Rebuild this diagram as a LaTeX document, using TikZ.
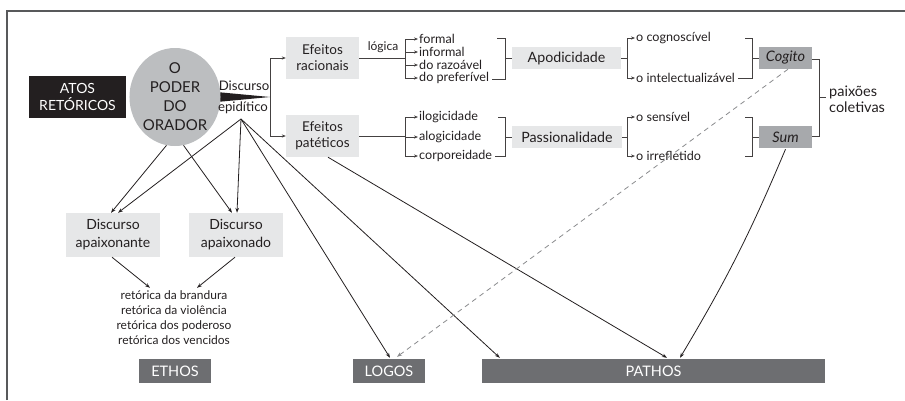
\documentclass[tikz,border=0pt]{standalone}
\usepackage{fontspec}
\setmainfont{Lato}
\usetikzlibrary{arrows.meta,shapes.geometric,calc,backgrounds}
\definecolor{lgray}{HTML}{E6E7E8}
\definecolor{mgray}{HTML}{A7A9AC}
\definecolor{egray}{HTML}{BCBEC0}
\definecolor{dgray}{HTML}{6D6E71}
\definecolor{fgray}{HTML}{58595B}
\definecolor{ink}{HTML}{231F20}
\begin{document}
\begin{tikzpicture}[x=1pt,y=-1pt,
  lbox/.style={fill=lgray,inner sep=0,align=center,text=ink,font=\fontsize{13.5}{16}\selectfont},
  mbox/.style={fill=mgray,inner sep=0,align=center,text=ink,font=\fontsize{14.5}{16}\selectfont\itshape,minimum width=53pt,minimum height=22pt},
  dbox/.style={fill=dgray,inner sep=0,align=center,text=white,font=\fontsize{14.5}{16}\selectfont,minimum height=24pt},
  item/.style={anchor=west,inner sep=1pt,text=ink,font=\fontsize{12.6}{13}\selectfont},
  lbl/.style={inner sep=0,text=ink,font=\fontsize{13.2}{14}\selectfont},
  conn/.style={draw=ink,line width=0.8pt,-{Stealth[length=5pt,width=3.6pt]}},
  brk/.style={draw=ink!85,line width=1pt},
  barrow/.style={brk,-{Stealth[length=4pt,width=3.2pt]}}]
\useasboundingbox (0,0) rectangle (905,400);
% frame
\draw[fgray,line width=1.6pt] (7,400) -- (7,11) -- (905,11);

% left part
\node[fill=ink,text=white,inner sep=0,minimum width=97pt,minimum height=42pt,align=center,font=\fontsize{14}{17}\selectfont] (atos) at (77.5,97) {ATOS\\RETÓRICOS};
\node[ellipse,fill=egray,inner sep=0,minimum width=84pt,minimum height=98pt,align=center,text=ink,font=\fontsize{15}{19}\selectfont] (orador) at (175,97) {O\\PODER\\DO\\ORADOR};
\coordinate (wt) at (270,97);
\begin{scope}[on background layer]
\fill[ink] ($(orador.east)+(-4,-5)$) -- (wt) -- ($(orador.east)+(-4,5)$) -- cycle;
\end{scope}
\node[lbl] (disc) at (244,86) {Discurso};
\node[lbl] (epid) at (243,108) {epidítico};
\coordinate (ep) at (241,119);

% efeitos
\node[lbox,minimum width=73pt,minimum height=42pt] (rac) at (322.5,58) {Efeitos\\racionais};
\node[lbox,minimum width=73pt,minimum height=42pt] (pat) at (322.5,136) {Efeitos\\patéticos};
\draw[brk] (rac.west -| wt) -- (pat.west -| wt);
\draw[barrow] (rac.west -| wt) -- (rac.west);
\draw[barrow] (pat.west -| wt) -- (pat.west);

% logic items
\coordinate (b1) at (405,97);
\node[item] (formal) at (418,39) {formal};
\node[item] (inform) at (418,52) {informal};
\node[item] (razo) at (418,65) {do razoável};
\node[item] (pref) at (418,78) {do preferível};
\draw[brk] (rac.east) -- (rac.east -| b1);
\node[lbl,font=\fontsize{12}{13}\selectfont] (logica) at (383,47) {lógica};
\draw[brk] (formal.west -| b1) -- (pref.west -| b1);
\foreach \n in {formal,inform,razo,pref} \draw[barrow] (\n.west -| b1) -- (\n.west);

\node[item] (ilog) at (418,117) {ilogicidade};
\node[item] (alog) at (418,137) {alogicidade};
\node[item] (corp) at (418,156) {corporeidade};
\draw[brk] (pat.east) -- (pat.east -| b1);
\draw[brk] (ilog.west -| b1) -- (corp.west -| b1);
\foreach \n in {ilog,alog,corp} \draw[barrow] (\n.west -| b1) -- (\n.west);

% apodicidade / passionalidade
\coordinate (b2) at (505,97);
\node[lbox,minimum width=109pt,minimum height=22pt,font=\fontsize{14.2}{16}\selectfont] (apod) at (566.5,58) {Apodicidade};
\node[lbox,minimum width=110pt,minimum height=22pt,font=\fontsize{14.2}{16}\selectfont] (pass) at (567,137) {Passionalidade};
\draw[brk] ($(formal.west -| b2)+(-8,-1)$) -- ($(formal.west -| b2)+(0,-1)$) -- ($(pref.west -| b2)+(0,1)$) -- ($(pref.east)+(2,1)$);
\draw[brk] (apod.west -| b2) -- (apod.west);
\draw[brk] ($(ilog.west -| b2)+(-7,0)$) -- (ilog.west -| b2) -- (corp.west -| b2) -- ($(corp.east)+(2,0)$);
\draw[brk] (pass.west -| b2) -- (pass.west);

\coordinate (b3) at (627,97);
\node[item] (cogn) at (635,38) {o cognoscível};
\node[item] (intel) at (635,78) {o intelectualizável};
\node[item] (sens) at (635,117) {o sensível};
\node[item] (irref) at (635,156) {o irrefletido};
\draw[brk] (apod.east) -- (apod.east -| b3);
\draw[brk] (pass.east) -- (pass.east -| b3);
\draw[brk] (cogn.west -| b3) -- (intel.west -| b3);
\draw[brk] (sens.west -| b3) -- (irref.west -| b3);
\foreach \n in {cogn,intel,sens,irref} \draw[barrow] (\n.west -| b3) -- (\n.west);

% cogito / sum
\coordinate (b4) at (752,97);
\node[mbox] (cogito) at (785.5,58) {Cogito};
\node[mbox] (sum) at (785.5,137) {Sum};
\draw[brk] ($(cogn.west -| b4)+(-7,0)$) -- (cogn.west -| b4) -- (intel.west -| b4) -- ($(intel.east)+(2,0)$);
\draw[brk] (cogito.west -| b4) -- (cogito.west);
\draw[brk] ($(sens.west -| b4)+(-7,0)$) -- (sens.west -| b4) -- (irref.west -| b4) -- ($(irref.west -| b4)+(-7,0)$);
\draw[brk] (sum.west -| b4) -- (sum.west);

\coordinate (b5) at (819,97);
\node[anchor=west,inner sep=0,align=left,text=ink,font=\fontsize{14.5}{16}\selectfont] (paix) at (829,99) {paixões\\coletivas};
\draw[brk] ($(cogito.east)+(0,1)$) -- ($(cogito.east -| b5)+(0,1)$) -- ($(sum.east -| b5)+(0,-1)$) -- ($(sum.east)+(0,-1)$);
\draw[brk] (b5) -- ($(b5)+(7,0)$);

% bottom part
\node[lbox,minimum width=94pt,minimum height=44pt,font=\fontsize{14}{18}\selectfont] (apnte) at (113,235) {Discurso\\apaixonante};
\node[lbox,minimum width=94pt,minimum height=44pt,font=\fontsize{14}{18}\selectfont] (apdo) at (236,235) {Discurso\\apaixonado};
\node[inner sep=0,align=center,text=ink,font=\fontsize{12}{15}\selectfont] (ret) at (174,318) {retórica da brandura\\retórica da violência\\retórica dos poderoso\\retórica dos vencidos};
\node[dbox,minimum width=72pt] (ethos) at (175,371) {ETHOS};
\node[dbox,minimum width=72pt] (logos) at (389,371) {LOGOS};
\node[dbox,minimum width=343pt] (pathos) at (653.5,371) {PATHOS};

\draw[conn] (orador.-100) -- ($(apnte.north)+(-2,0)$);
\draw[conn] (orador.-80) -- ($(apdo.north)+(-4,0)$);
\draw[conn] (ep) -- ($(apnte.north)+(5,0)$);
\draw[conn] (ep) -- ($(apdo.north)+(1,0)$);
\draw[conn] (ep) -- ($(logos.north)+(1,-1)$);
\draw[conn] (ep) -- ($(pathos.north west)+(18,-1)$);
\draw[conn] ($(pat.south)+(5.5,0)$) -- ($(pathos.north)+(13.5,-1)$);
\draw[conn] ($(sum.south)+(0,1)$) to[bend left=4] ($(pathos.north)+(26.5,-1)$);
\draw[conn,draw=dgray!80,dashed,dash pattern=on 5pt off 4pt] ($(cogito.south)+(2.5,0)$) -- ($(logos.north)+(8,-2)$);
\draw[conn] ($(apnte.south)+(-1,0)$) -- ($(ret.north)+(-24,-3)$);
\draw[conn] ($(apdo.south)+(-1,0)$) -- ($(ret.north)+(23,-3)$);
\end{tikzpicture}
\end{document}
